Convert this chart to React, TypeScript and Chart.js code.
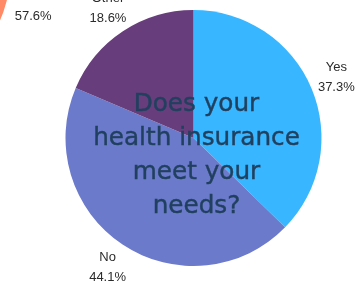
import React, { useEffect, useRef } from "react";
import { Chart, registerables } from "chart.js";

Chart.register(...registerables);

const categories = ["Yes", "No", "Other"];
const percents = [37.3, 44.1, 18.6];
const sliceColors = ["#38B6FF", "#6C7ACB", "#673D7B"];

const neighborCategories = ["Yes", "Other"];
const neighborPercents = [57.6, 42.4];
const neighborColors = ["#FF8A65", "#F4C2A8"];

const titleLines = ["Does your", "health insurance", "meet your", "needs?"];

const W = 355;
const H = 284;

const outsideLabels = {
  id: "outsideLabels",
  afterDatasetsDraw(chart: any, _args: any, opts: any) {
    const ctx = chart.ctx;
    const meta = chart.getDatasetMeta(0);
    const labels = chart.data.labels as string[];
    const values = chart.data.datasets[0].data as number[];
    const show: number[] = opts.show || labels.map((_: any, i: number) => i);
    ctx.save();
    ctx.fillStyle = "#2b2b2b";
    ctx.font = "13px 'Liberation Sans', Arial, sans-serif";
    ctx.textAlign = "center";
    ctx.textBaseline = "middle";
    meta.data.forEach((arc: any, i: number) => {
      if (!show.includes(i)) return;
      const mid = (arc.startAngle + arc.endAngle) / 2;
      const r = arc.outerRadius + 27;
      const x = arc.x + Math.cos(mid) * r;
      const y = arc.y + Math.sin(mid) * r;
      ctx.fillText(labels[i], x, y - 10);
      ctx.fillText(values[i].toFixed(1) + "%", x, y + 10);
    });
    ctx.restore();
  },
};

function makePie(
  canvas: HTMLCanvasElement,
  labels: string[],
  data: number[],
  colors: string[],
  show: number[],
  extraRight: number
) {
  return new Chart(canvas, {
    type: "pie",
    data: {
      labels,
      datasets: [{ data, backgroundColor: colors, borderWidth: 0 }],
    },
    options: {
      responsive: false,
      animation: false,
      layout: { padding: { left: 65, right: 33 + extraRight, top: 10, bottom: 18 } },
      plugins: {
        legend: { display: false },
        tooltip: { enabled: false },
        outsideLabels: { show },
      } as any,
    },
    plugins: [outsideLabels],
  });
}

export default function App() {
  const mainRef = useRef<HTMLCanvasElement>(null);
  const leftRef = useRef<HTMLCanvasElement>(null);

  useEffect(() => {
    const a = makePie(mainRef.current!, categories, percents, sliceColors, [0, 1, 2], 0);
    const b = makePie(leftRef.current!, neighborCategories, neighborPercents, neighborColors, [0], 60);
    return () => {
      a.destroy();
      b.destroy();
    };
  }, []);

  return (
    <div
      style={{
        position: "fixed",
        left: 0,
        top: 0,
        width: W,
        height: H,
        overflow: "hidden",
        background: "#ffffff",
      }}
    >
      <canvas
        ref={leftRef}
        width={W + 60}
        height={H}
        style={{ position: "absolute", left: -311, top: -168, width: W + 60, height: H }}
      />
      <canvas
        ref={mainRef}
        width={W}
        height={H}
        style={{ position: "absolute", left: 0, top: 0, width: W, height: H }}
      />
      <div
        style={{
          position: "absolute",
          left: 0,
          width: 393,
          top: 86,
          textAlign: "center",
          fontFamily: "'DejaVu Sans', sans-serif",
          fontSize: 24.7,
          lineHeight: "34px",
          color: "#21405F",
          WebkitTextStroke: "0.4px #21405F",
          pointerEvents: "none",
        }}
      >
        {titleLines.map((l, i) => (
          <div key={i}>{l}</div>
        ))}
      </div>
    </div>
  );
}
